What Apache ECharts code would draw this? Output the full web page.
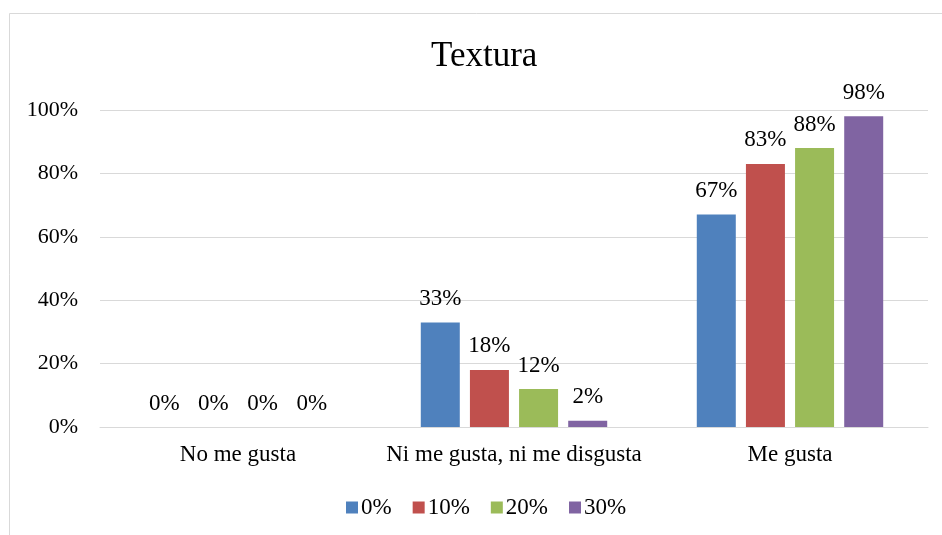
<!DOCTYPE html>
<html>
<head>
<meta charset="utf-8">
<script src="https://cdn.jsdelivr.net/npm/echarts@6/dist/echarts.min.js"></script>
<style>
  html, body { margin: 0; padding: 0; background: #fff; }
  #chart { width: 942px; height: 535px; }
</style>
</head>
<body>
<div id="chart"></div>
<script>
// Categories along the x axis
const categories = ['No me gusta', 'Ni me gusta, ni me disgusta', 'Me gusta'];
// Series names (percentage of substitution)
const seriesNames = ['0%', '10%', '20%', '30%'];
// Percent of responses per series, in category order
const values0 = [0, 33, 67];
const values10 = [0, 18, 83];
const values20 = [0, 12, 88];
const values30 = [0, 2, 98];
const seriesColors = ['#4F81BD', '#C0504D', '#9BBB59', '#8064A2'];

const FONT = "'Liberation Serif', 'Times New Roman', serif";
const allValues = [values0, values10, values20, values30];

const chart = echarts.init(document.getElementById('chart'), null, { renderer: 'canvas' });

chart.setOption({
  animation: false,
  backgroundColor: '#fff',
  textStyle: { fontFamily: FONT },
  graphic: [{
    type: 'rect',
    shape: { x: 9.5, y: 13.5, width: 960, height: 560 },
    style: { fill: 'none', stroke: '#d9d9d9', lineWidth: 1 },
    z: -1
  }],
  title: {
    text: 'Textura',
    left: 426,
    top: 34,
    textStyle: { fontFamily: FONT, fontSize: 35, fontWeight: 'normal', color: '#000' }
  },
  legend: {
    data: seriesNames,
    bottom: 11,
    left: 341,
    icon: 'rect',
    itemWidth: 12,
    itemHeight: 12,
    itemGap: 21,
    textStyle: { fontFamily: FONT, fontSize: 23, color: '#000', padding: [0, 0, 0, -2] }
  },
  grid: { left: 100, right: 14, top: 110, bottom: 108, containLabel: false },
  xAxis: {
    type: 'category',
    data: categories,
    axisLine: { lineStyle: { color: '#d9d9d9' } },
    axisTick: { show: false },
    axisLabel: { interval: 0, color: '#000', fontFamily: FONT, fontSize: 23, margin: 16 }
  },
  yAxis: {
    type: 'value',
    min: 0,
    max: 100,
    interval: 20,
    axisLine: { show: false },
    axisTick: { show: false },
    splitLine: { lineStyle: { color: '#d9d9d9' } },
    axisLabel: { color: '#000', fontFamily: FONT, fontSize: 22, margin: 22, formatter: '{value}%' }
  },
  series: seriesNames.map((name, i) => ({
    name: name,
    type: 'bar',
    data: allValues[i],
    barWidth: 39,
    barGap: '26%',
    itemStyle: { color: seriesColors[i] },
    label: {
      show: true,
      position: 'top',
      distance: 12,
      formatter: p => p.value + '%',
      color: '#000',
      fontFamily: FONT,
      fontSize: 23
    }
  }))
});
</script>
</body>
</html>
